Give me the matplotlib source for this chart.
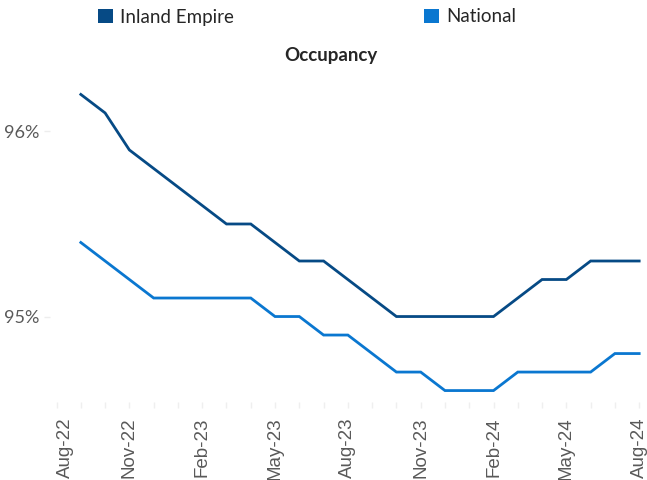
import matplotlib
matplotlib.use("Agg")
import matplotlib.pyplot as plt
from matplotlib.patches import Patch
import matplotlib.transforms as mtransforms

months = ["Aug-22", "Sep-22", "Oct-22", "Nov-22", "Dec-22", "Jan-23", "Feb-23", "Mar-23",
          "Apr-23", "May-23", "Jun-23", "Jul-23", "Aug-23", "Sep-23", "Oct-23", "Nov-23",
          "Dec-23", "Jan-24", "Feb-24", "Mar-24", "Apr-24", "May-24", "Jun-24", "Jul-24", "Aug-24"]
# values begin at Sep-22 (the first category has no plotted point)
inland_empire = [None, 96.2, 96.1, 95.9, 95.8, 95.7, 95.6, 95.5, 95.5, 95.4, 95.3, 95.3, 95.2,
                 95.1, 95.0, 95.0, 95.0, 95.0, 95.0, 95.1, 95.2, 95.2, 95.3, 95.3, 95.3]
national = [None, 95.4, 95.3, 95.2, 95.1, 95.1, 95.1, 95.1, 95.1, 95.0, 95.0, 94.9, 94.9,
            94.8, 94.7, 94.7, 94.6, 94.6, 94.6, 94.7, 94.7, 94.7, 94.7, 94.8, 94.8]
label_every = 3
yticks = [95, 96]
ytick_labels = ["95%", "96%"]

c_ie = "#064a85"
c_nat = "#0a77d0"
gray = "#595959"

fig = plt.figure(figsize=(6.47, 4.80), dpi=100)
W, H = 647, 480
ax = fig.add_axes([50 / W, 1 - 405 / H, 595 / W, 330 / H])

x = list(range(len(months)))
xi = [i for i, v in zip(x, inland_empire) if v is not None]
vi = [v for v in inland_empire if v is not None]
xn = [i for i, v in zip(x, national) if v is not None]
vn = [v for v in national if v is not None]
ax.plot(xi, vi, color=c_ie, lw=2.0, solid_joinstyle="miter")
ax.plot(xn, vn, color=c_nat, lw=2.0, solid_joinstyle="miter")

ax.set_xlim(-0.27, 24.24)
ax.set_ylim(94.522, 96.305)

for s in ax.spines.values():
    s.set_visible(False)

ax.set_yticks(yticks)
ax.set_yticklabels(ytick_labels, fontsize=13, color=gray, family="Lato")
ax.tick_params(axis="y", length=4, color="#ededed", width=1, pad=4)

ax.set_xticks(x, minor=True)
ax.set_xticks(x[::label_every])
ax.set_xticklabels(months[::label_every], rotation=90, fontsize=13.5, color=gray,
                   family="Liberation Sans")
ax.tick_params(axis="x", which="both", length=4, color="#efefef", width=1, pad=7, direction="inout")
# first label is nudged right as in the reference
first = ax.get_xticklabels()[0]
first.set_transform(first.get_transform() + mtransforms.ScaledTranslation(9 / 100, 0, fig.dpi_scale_trans))

fig.text(331 / W, 1 - 55 / H, "Occupancy", ha="center", va="center", fontsize=13.5,
         fontweight="bold", color="#262626", family="Lato")

handles = [Patch(facecolor=c_ie, edgecolor="none", label="Inland Empire"),
           Patch(facecolor=c_nat, edgecolor="none", label="National")]
leg = fig.legend(handles=handles, loc="center left", bbox_to_anchor=(81 / W, 1 - 17 / H), ncol=2,
                 frameon=False, handlelength=0.8, handleheight=0.8, handletextpad=0.4,
                 columnspacing=10.1, prop={"family": "Lato", "size": 13.5})
for t in leg.get_texts():
    t.set_color("#262626")

fig.savefig("out.png", dpi=100)
